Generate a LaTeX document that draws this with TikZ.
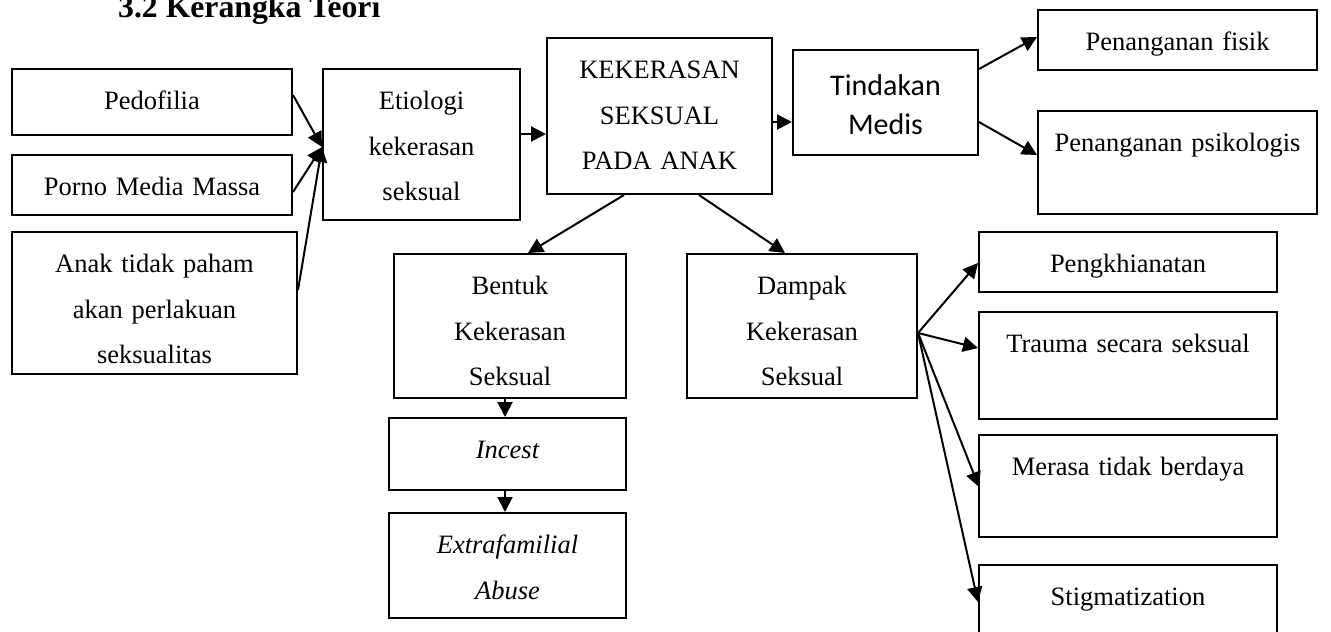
\documentclass[tikz,border=0pt]{standalone}
\usepackage{fontspec}
\setmainfont{Liberation Serif}
\newfontfamily\calfnt{Carlito}
\usetikzlibrary{arrows.meta,calc}
\newcommand{\bodyfnt}{\fontsize{26.5pt}{45.5pt}\selectfont}
\newcommand{\calbodyfnt}{\calfnt\fontsize{30pt}{39pt}\selectfont}
\tikzset{
  bx/.style n args={3}{draw, line width=2pt, anchor=north west, inner xsep=0pt, inner ysep=0pt,
    align=center, text width=#1, text height=#2, text depth=#3, font=\bodyfnt},
  arr/.style={-{Triangle[length=15pt,width=15pt]}, line width=2pt},
}
\begin{document}
\begin{tikzpicture}[x=1pt,y=-1pt]
\useasboundingbox (0,0) rectangle (1331,632);
\clip (0,0) rectangle (1331,632);

\node[anchor=base west, inner sep=0pt, font=\fontsize{31.7pt}{36pt}\selectfont\bfseries] (title) at (118,17) {3.2 Kerangka Teori};

% left column
\node[bx={280pt}{40.5pt}{25.5pt}] (ped) at (11,68) {Pedofilia};
\node[bx={280pt}{40.5pt}{19.5pt}] (por) at (11,154) {Porno Media Massa};
\node[bx={285pt}{40.5pt}{101.5pt}] (anak) at (11,231) {Anak tidak paham\\akan perlakuan\\seksualitas};

% etiologi and central
\node[bx={197pt}{40.5pt}{110.5pt}] (eti) at (322,68) {Etiologi\\kekerasan\\seksual};
\node[bx={225pt}{40.5pt}{115.5pt}] (kek) at (546,37) {KEKERASAN\\SEKSUAL\\PADA ANAK};
\node[bx={185pt}{45pt}{60pt}, font=\calbodyfnt] (tin) at (792,49) {Tindakan\\Medis};

% treatment
\node[bx={279pt}{40.5pt}{19.5pt}] (fis) at (1037,9) {Penanganan fisik};
\node[bx={279pt}{40.5pt}{62.5pt}] (psi) at (1037,110) {Penanganan psikologis};

% forms
\node[bx={232pt}{40.5pt}{103.5pt}] (ben) at (393,253) {Bentuk\\Kekerasan\\Seksual};
\node[bx={237pt}{40.5pt}{31.5pt}] (inc) at (388,417) {\itshape Incest};
\node[bx={237pt}{40.5pt}{64.5pt}] (ext) at (388,512) {\itshape Extrafamilial\\\itshape Abuse};

% impacts
\node[bx={230pt}{40.5pt}{103.5pt}] (dam) at (686,253) {Dampak\\Kekerasan\\Seksual};
\node[bx={298pt}{40.5pt}{19.5pt}] (pen) at (978,231) {Pengkhianatan};
\node[bx={298pt}{40.5pt}{66.5pt}] (tra) at (978,311) {Trauma secara seksual};
\node[bx={298pt}{40.5pt}{61.5pt}] (mer) at (978,434) {Merasa tidak berdaya};
\node[bx={298pt}{40.5pt}{45.5pt}] (sti) at (978,564) {Stigmatization};

% connectors
\coordinate (etiin) at ($(eti.north west)+(0,79)$);
\draw[arr] ($(ped.north east)+(0,27)$) -- (etiin);
\draw[arr] ($(por.north east)+(0,38)$) -- (etiin);
\draw[arr] ($(anak.north east)+(0,59)$) -- (etiin);

\draw[arr] ($(eti.north east)+(0,66)$) -- ($(kek.north west)+(0,97)$);
\draw[arr] ($(kek.north east)+(0,85)$) -- ($(tin.north west)+(0,73)$);

\draw[arr] ($(tin.north east)+(0,20)$) -- ($(fis.north west)+(0,28)$);
\draw[arr] ($(tin.north east)+(0,73)$) -- ($(psi.north west)+(0,45)$);

\draw[arr] ($(kek.south west)+(78,0)$) -- ($(ben.north west)+(135,0)$);
\draw[arr] ($(kek.south west)+(153,0)$) -- ($(dam.north west)+(99,0)$);

\draw[arr] ($(ben.south west)+(112,0)$) -- ($(inc.north west)+(117,0)$);
\draw[arr] ($(inc.south west)+(117,0)$) -- ($(ext.north west)+(117,0)$);

\coordinate (damout) at ($(dam.north east)+(0,80)$);
\draw[arr] (damout) -- ($(pen.north west)+(0,32)$);
\draw[arr] (damout) -- ($(tra.north west)+(0,37)$);
\draw[arr] (damout) -- ($(mer.north west)+(1,53)$);
\draw[arr] (damout) -- ($(sti.north west)+(0,38)$);
\end{tikzpicture}
\end{document}
